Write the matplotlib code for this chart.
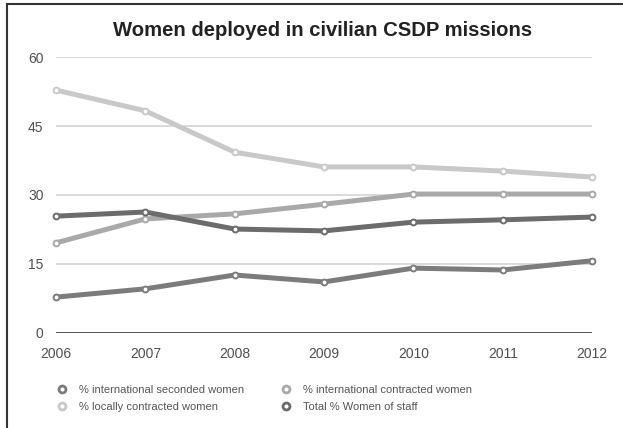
import matplotlib.pyplot as plt
from matplotlib.lines import Line2D

plt.rcParams['font.family'] = ['Liberation Sans', 'DejaVu Sans']

years = [2006, 2007, 2008, 2009, 2010, 2011, 2012]
seconded = [7.8, 9.6, 12.6, 11.1, 14.1, 13.7, 15.7]
intl_contracted = [19.6, 24.8, 25.9, 28.0, 30.2, 30.2, 30.2]
local_contracted = [52.8, 48.3, 39.3, 36.1, 36.1, 35.2, 33.9]
total_staff = [25.4, 26.3, 22.6, 22.2, 24.1, 24.6, 25.2]
yticks = [0, 15, 30, 45, 60]

fig = plt.figure(figsize=(6.23, 4.28), dpi=100)
ax = fig.add_axes([0.0899, 0.222, 0.8604, 0.6448])

# grid first
for v in yticks[1:]:
    ax.axhline(v, color='#d4d4d4', lw=1.2, zorder=1)
ax.axhline(0, color='#555555', lw=1.4, zorder=1)

series = [
    (seconded, '#7c7c7c', '% international seconded women'),
    (local_contracted, '#c9c9c9', '% locally contracted women'),
    (intl_contracted, '#a9a9a9', '% international contracted women'),
    (total_staff, '#6c6c6c', 'Total % Women of staff'),
]
handles = []
for vals, col, lab in series:
    ax.plot(years, vals, color=col, lw=3.6, marker='o', ms=4.2, mfc='white',
            mec=col, mew=1.4, clip_on=False, zorder=3, solid_capstyle='round')
    handles.append(Line2D([], [], ls='none', marker='o', ms=5, mfc='white',
                          mec=col, mew=2, label=lab))

ax.set_xlim(2006, 2012)
ax.set_ylim(0, 60)
ax.set_yticks(yticks)
ax.set_xticks(years)
for s in ax.spines.values():
    s.set_visible(False)
ax.tick_params(length=0, labelsize=10, labelcolor='#505050')
ax.tick_params(axis='y', pad=9)
ax.tick_params(axis='x', pad=10)
ax.set_facecolor('white')

fig.text(0.518, 0.929, 'Women deployed in civilian CSDP missions', ha='center',
         va='center', fontsize=14.6, fontweight='bold', color='#222222')

fig.legend(handles=handles, ncol=2, loc='upper left', bbox_to_anchor=(0.082, 0.113),
           frameon=False, fontsize=8, labelcolor='#555555', handletextpad=1.0,
           columnspacing=3.3, labelspacing=0.6, handlelength=1.0, borderpad=0)

# frame lines left and top
fig.add_artist(Line2D([0.0105, 0.0105], [0, 0.99], color='#333333', lw=1.5))
fig.add_artist(Line2D([0.0105, 1.0], [0.99, 0.99], color='#333333', lw=1.5))

fig.savefig('out.png', dpi=100)
